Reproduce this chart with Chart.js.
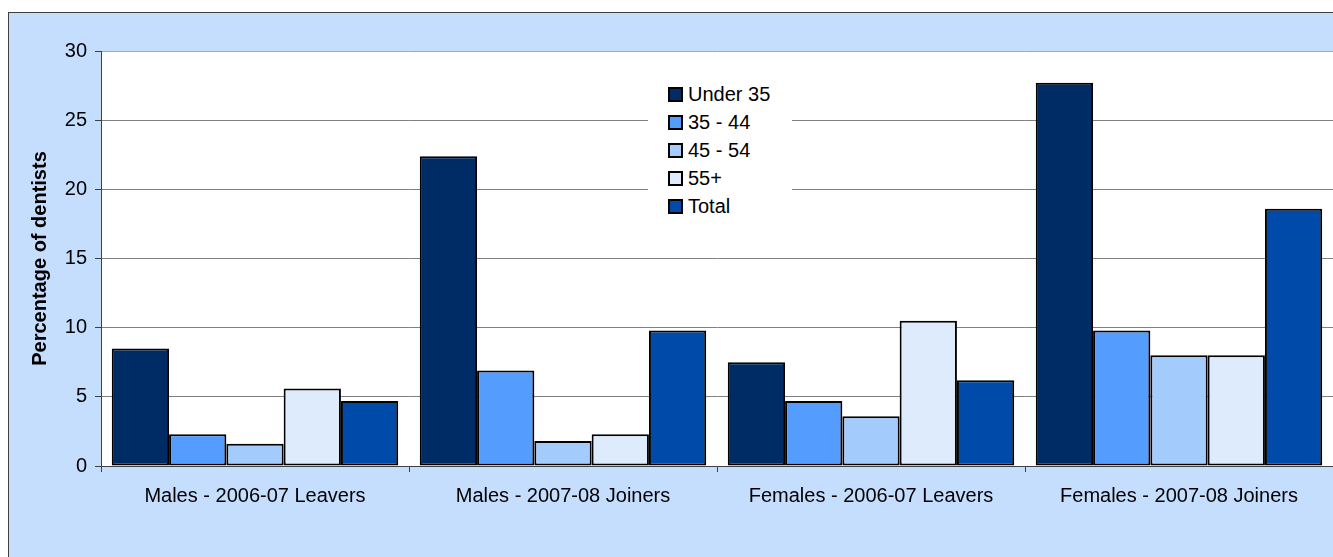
<!DOCTYPE html>
<html>
<head>
<meta charset="utf-8">
<script src="https://cdn.jsdelivr.net/npm/chart.js@4.4.1/dist/chart.umd.min.js"></script>
<style>
  html, body { margin: 0; padding: 0; background: #ffffff; overflow: hidden; }
  #frame {
    position: absolute; left: 8px; top: 12px; width: 1400px; height: 600px;
    background: #c6defe; border: 1.5px solid #404040; box-sizing: border-box;
  }
  #chart { position: absolute; left: 0; top: 0; }
  #legend {
    position: absolute; left: 648px; top: 78px; width: 144px; height: 144px;
    background: #ffffff; font-family: "Liberation Sans", Arial, sans-serif;
    font-size: 20px; color: #000;
  }
  .item { position: absolute; left: 20px; height: 28px; line-height: 28px; white-space: nowrap; }
  .box {
    display: inline-block; width: 11px; height: 11px; border: 2px solid #000;
    vertical-align: -1px; margin-right: 5px;
  }
</style>
</head>
<body>
<div id="frame"></div>
<canvas id="chart" width="1333" height="557"></canvas>
<div id="legend"></div>
<script>
// ============================================================
// DATA
// ============================================================
const categories = [
  'Males - 2006-07 Leavers',
  'Males - 2007-08 Joiners',
  'Females - 2006-07 Leavers',
  'Females - 2007-08 Joiners'
];
const seriesNames  = ['Under 35', '35 - 44', '45 - 54', '55+', 'Total'];
const under35      = [8.5, 22.4, 7.5, 27.7];
const age35to44    = [2.3, 6.9, 4.7, 9.8];
const age45to54    = [1.6, 1.8, 3.6, 8.0];
const age55plus    = [5.6, 2.3, 10.5, 8.0];
const total        = [4.7, 9.8, 6.2, 18.6];
const yTicks       = [0, 5, 10, 15, 20, 25, 30];

const seriesValues = [under35, age35to44, age45to54, age55plus, total];
const seriesColors = ['#002c66', '#559cff', '#a3cbfc', '#ddebfd', '#004baa'];

const FONT = '"Liberation Sans", Arial, sans-serif';

// white plot area
const plotBg = {
  id: 'plotBg',
  beforeDraw(chart) {
    const a = chart.chartArea, c = chart.ctx;
    c.save();
    c.fillStyle = '#ffffff';
    c.fillRect(a.left, a.top, a.right - a.left, a.bottom - a.top);
    c.restore();
  }
};

const chart = new Chart(document.getElementById('chart'), {
  type: 'bar',
  data: {
    labels: categories,
    datasets: seriesNames.map((name, i) => ({
      label: name,
      data: seriesValues[i],
      backgroundColor: seriesColors[i],
      borderColor: '#000000',
      borderWidth: 2,
      borderSkipped: false,
      categoryPercentage: 0.93,
      barPercentage: 1.0,
    }))
  },
  options: {
    responsive: false,
    devicePixelRatio: 1,
    animation: false,
    layout: { padding: { top: 51, right: 0, left: 0, bottom: 0 } },
    plugins: { legend: { display: false }, tooltip: { enabled: false } },
    scales: {
      x: {
        afterFit: s => { s.height = 91; },
        grid: { display: true, drawOnChartArea: false, drawTicks: true, tickLength: 6, tickColor: '#404040', offset: true },
        border: { display: true, color: '#404040', width: 1 },
        ticks: { color: '#000', font: { family: FONT, size: 20 }, padding: 12, maxRotation: 0 }
      },
      y: {
        min: 0, max: 30,
        afterFit: s => { s.width = 101; },
        afterBuildTicks: s => { s.ticks = yTicks.map(v => ({ value: v })); },
        grid: {
          color: c => (c.tick && c.tick.value === 30 ? '#a8a8a8' : '#808080'),
          drawTicks: true, tickLength: 6, tickColor: '#404040'
        },
        border: { display: true, color: '#404040', width: 1 },
        ticks: { color: '#000', font: { family: FONT, size: 20 }, padding: 8 },
        title: {
          display: true, text: 'Percentage of dentists', color: '#000',
          font: { family: FONT, size: 20, weight: 'bold' },
          padding: { top: 28, bottom: 0 }
        }
      }
    }
  },
  plugins: [plotBg]
});

// ============================================================
// LEGEND (html, over the plot)
// ============================================================
const legend = document.getElementById('legend');
legend.innerHTML = seriesNames.map((name, i) =>
  `<div class="item" style="top:${2 + i * 28}px"><span class="box" style="background:${seriesColors[i]}"></span>${name}</div>`
).join('');
</script>
</body>
</html>
